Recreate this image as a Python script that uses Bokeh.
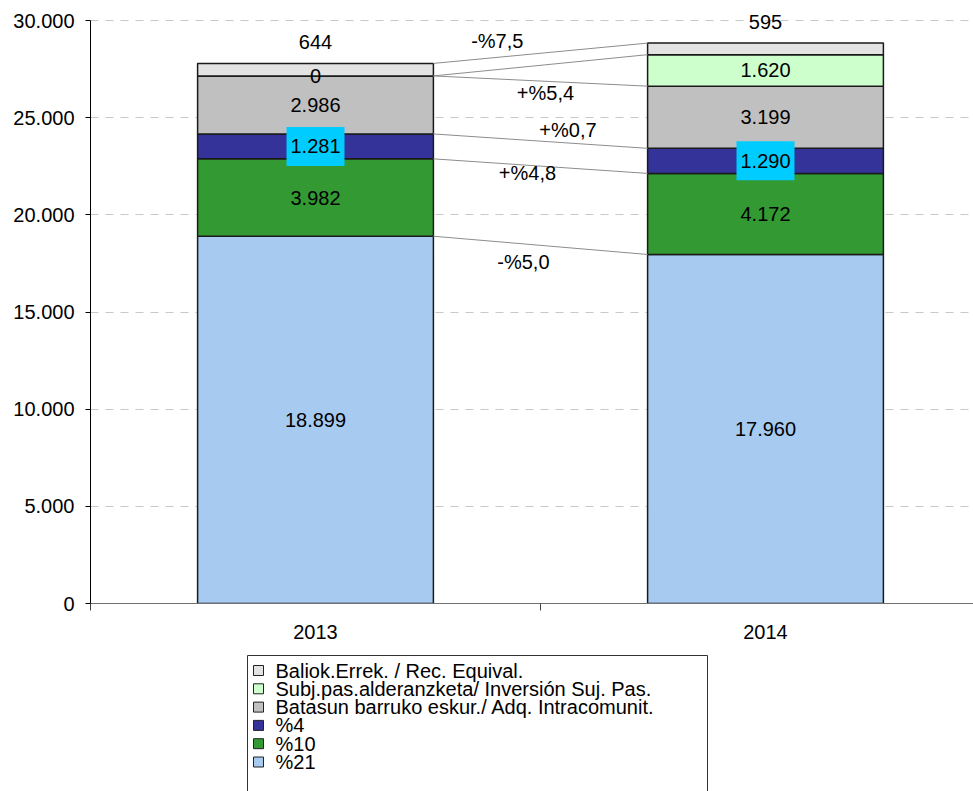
import numpy as np
from bokeh.plotting import figure
from bokeh.models import Range1d, FixedTicker
from bokeh.layouts import column
from bokeh.core.properties import value
from bokeh.embed import file_html
from bokeh.resources import INLINE

# ---------------- data ----------------
years = ["2013", "2014"]
series = ["%21", "%10", "%4",
          "Batasun barruko eskur./ Adq. Intracomunit.",
          "Subj.pas.alderanzketa/ Inversión Suj. Pas.",
          "Baliok.Errek. / Rec. Equival."]
colors = ["#A6CAF0", "#339933", "#333399", "#C0C0C0", "#CCFFCC", "#E3E3E3"]
v_21 = [18899, 17960]
v_10 = [3982, 4172]
v_4 = [1281, 1290]
v_batasun = [2986, 3199]
v_subj = [0, 1620]
v_baliok = [644, 595]
values = [v_21, v_10, v_4, v_batasun, v_subj, v_baliok]

# change labels between the two years
change_text = ["-%7,5", "+%5,4", "+%0,7", "+%4,8", "-%5,0"]
# label anchor positions (x in category units, y in data units)
change_x = [0.904, 1.011, 1.061, 0.971, 0.962]
change_y = [28920, 26295, 24391, 22127, 17598]

y_ticks = [0, 5000, 10000, 15000, 20000, 25000, 30000]
y_max = 30000

FONT = value("Liberation Sans")
FS = "20px"


def fmt(v):
    return f"{v:,}".replace(",", ".")


x_pos = [0.5, 1.5]
bar_w = 0.524

PX_PER_CAT = 450
FRAME_W = 883
AXIS_H = 583          # pixel height for 0..30000
TOP_PAD = 20          # pixels above the 30000 line inside the frame

p = figure(frame_width=FRAME_W, frame_height=AXIS_H + TOP_PAD,
           output_backend="svg", toolbar_location=None,
           x_range=Range1d(0, FRAME_W / PX_PER_CAT),
           y_range=Range1d(0, y_max * (AXIS_H + TOP_PAD) / AXIS_H),
           min_border_left=90, min_border_right=0, min_border_top=0,
           min_border_bottom=45)
p.outline_line_color = None
p.background_fill_color = "white"
p.border_fill_color = "white"

vals = np.array(values, dtype=float)
tops = np.cumsum(vals, axis=0)
bottoms = tops - vals

# bars
for i in range(len(series)):
    p.vbar(x=x_pos, width=bar_w, bottom=list(bottoms[i]), top=list(tops[i]),
           fill_color=colors[i], line_color="#1a1a1a", line_width=1.5)

# connector lines between the bars
xl = x_pos[0] + bar_w / 2
xr = x_pos[1] - bar_w / 2
p.segment(x0=[xl] * len(series), y0=list(tops[:, 0]),
          x1=[xr] * len(series), y1=list(tops[:, 1]),
          line_color="#8c8c8c", line_width=1)

# cyan highlight behind %4 labels
i4 = 2
p.rect(x=x_pos, y=list(bottoms[i4] + vals[i4] / 2), width=58, height=39,
       width_units="screen", height_units="screen",
       fill_color="#00CCFF", line_color=None)

# value labels
for i in range(len(series)):
    if i == len(series) - 1:
        ys = list(tops[i])
        off = -21
    else:
        ys = list(bottoms[i] + vals[i] / 2)
        off = 0
    p.text(x=x_pos, y=ys, text=[fmt(int(v)) for v in values[i]],
           y_offset=off, text_align="center", text_baseline="middle",
           text_font=FONT, text_font_size=FS, text_color="black")

# change labels
p.text(x=change_x, y=change_y, text=change_text, text_align="center",
       text_baseline="middle", text_font=FONT, text_font_size=FS,
       text_color="black")

# axes
xa = p.xaxis[0]
xa.ticker = FixedTicker(ticks=x_pos, minor_ticks=[0, 1, 2])
xa.major_label_overrides = {0.5: years[0], 1.5: years[1]}
xa.major_tick_out = 0
xa.major_tick_in = 0
xa.minor_tick_out = 7
xa.minor_tick_in = 0
xa.minor_tick_line_color = "#404040"
xa.axis_line_color = "#707070"
xa.major_label_text_font = "Liberation Sans"
xa.major_label_text_font_size = FS
xa.major_label_text_color = "black"
xa.major_label_standoff = 14

ya = p.yaxis[0]
ya.ticker = FixedTicker(ticks=y_ticks, minor_ticks=[])
ya.major_label_overrides = {t: fmt(t) for t in y_ticks}
ya.bounds = (0, y_max)
ya.major_tick_out = 5
ya.major_tick_in = 0
ya.axis_line_color = "black"
ya.major_tick_line_color = "black"
ya.major_label_text_font = "Liberation Sans"
ya.major_label_text_font_size = FS
ya.major_label_text_color = "black"
ya.major_label_standoff = 11

p.xgrid.grid_line_color = None
p.ygrid.grid_line_color = "#C8C8C8"
p.ygrid.grid_line_dash = "8 7"
p.ygrid.ticker = FixedTicker(ticks=y_ticks)

# ---------------- legend (separate strip, frame aligned with the chart) ----------------
LH = 143
leg = figure(frame_width=FRAME_W, frame_height=LH, output_backend="svg",
             toolbar_location=None,
             x_range=Range1d(0, FRAME_W), y_range=Range1d(LH, 0),
             x_axis_type=None, y_axis_type=None,
             min_border_left=90, min_border_right=0, min_border_top=0,
             min_border_bottom=0)
leg.outline_line_color = None
leg.background_fill_color = "white"
leg.border_fill_color = "white"

box_l, box_r, box_t = 157, 617, 7
leg.multi_line(xs=[[box_l, box_l, box_r, box_r]], ys=[[LH + 5, box_t, box_t, LH + 5]],
               line_color="#333333", line_width=1)
order = list(range(len(series)))[::-1]
row_y = [22 + 18.3 * k for k in range(len(order))]
leg.rect(x=[168] * len(order), y=row_y, width=10, height=10,
         fill_color=[colors[i] for i in order], line_color="#222222", line_width=1)
leg.text(x=[185] * len(order), y=row_y, text=[series[i] for i in order],
         text_align="left", text_baseline="middle", text_font=FONT,
         text_font_size=FS, text_color="black")

layout = column(p, leg, spacing=0)
open("out.html", "w").write(file_html(layout, INLINE))
